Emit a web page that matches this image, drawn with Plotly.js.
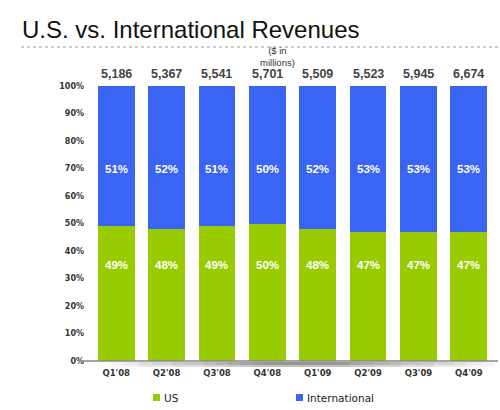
<!DOCTYPE html>
<html><head><meta charset="utf-8">
<script src="https://cdn.plot.ly/plotly-3.0.1.min.js"></script>
<style>html,body{margin:0;padding:0;background:#fff}#chart{width:500px;height:410px}</style>
</head><body><div id="chart"></div>
<script>
const quarters = ["Q1'08","Q2'08","Q3'08","Q4'08","Q1'09","Q2'09","Q3'09","Q4'09"];
const usShare = [49,48,49,50,48,47,47,47];
const intlShare = [51,52,51,50,52,53,53,53];
const totals = ["5,186","5,367","5,541","5,701","5,509","5,523","5,945","6,674"];
const yTicks = [0,10,20,30,40,50,60,70,80,90,100];
const seriesNames = ['US','International'];

const green = '#99cc00', blue = '#3a64f4';
const colors = [green, blue];
const traces = [
  {type:'bar', name:seriesNames[0], x:quarters, y:usShare, marker:{color:green}, hoverinfo:'none', showlegend:false},
  {type:'bar', name:seriesNames[1], x:quarters, y:intlShare, marker:{color:blue}, hoverinfo:'none', showlegend:false}
];
const PW = 403, PH = 275, L = 91, B = 361;
const px = v => (v - L) / PW, py = v => (B - v) / PH;

const ann = [];
quarters.forEach((q,i)=>{
  ann.push({x:q, y:100, yref:'y', text:'<b>'+totals[i]+'</b>', showarrow:false, yanchor:'bottom', yshift:3,
    font:{family:'Liberation Sans, Arial', size:12.5, color:'#444'}});
  ann.push({x:q, y:70, text:'<b>'+intlShare[i]+'%</b>', showarrow:false, font:{family:'Liberation Sans, Arial', size:11.5, color:'#fff'}});
  ann.push({x:q, y:35, text:'<b>'+usShare[i]+'%</b>', showarrow:false, font:{family:'Liberation Sans, Arial', size:11.5, color:'#fff'}});
});
ann.push({xref:'x', x:3, xshift:10, yref:'paper', y:1, yshift:16, text:'($ in<br>millions)', showarrow:false, yanchor:'bottom',
  font:{family:'Liberation Sans, Arial', size:9.5, color:'#333'}});

// legend drawn as swatches + labels
const legX = [153, 296];
const legShapes = [];
seriesNames.forEach((n,i)=>{
  legShapes.push({type:'rect', xref:'paper', yref:'paper', x0:px(legX[i]), x1:px(legX[i]+7), y0:py(394), y1:py(401),
    fillcolor:colors[i], line:{width:0}});
  ann.push({xref:'paper', yref:'paper', x:px(legX[i]+9), y:py(397.5), xanchor:'left', yanchor:'middle', showarrow:false,
    text:n, font:{family:'DejaVu Sans', size:10.5, color:'#222'}});
});

// soft shadow under the baseline
const shadow = [];
const widths = [[0.05,1.0],[0.12,0.93],[0.2,0.85],[0.28,0.77],[0.34,0.7],[0.4,0.64]];
widths.forEach(w=>{
  shadow.push({type:'rect', xref:'paper', yref:'paper', x0:w[0], x1:w[1], y0:py(367), y1:py(362),
    fillcolor:'rgba(0,0,0,0.045)', line:{width:0}, layer:'below'});
  shadow.push({type:'rect', xref:'paper', yref:'paper', x0:w[0]+0.03, x1:w[1]-0.03, y0:py(365), y1:py(362),
    fillcolor:'rgba(0,0,0,0.04)', line:{width:0}, layer:'below'});
});

const layout = {
  width:500, height:410,
  margin:{l:L, r:6, t:86, b:49, autoexpand:false},
  barmode:'stack', bargap:0.27,
  paper_bgcolor:'#fff', plot_bgcolor:'#fff',
  title:{text:'U.S. vs. International Revenues', x:22/500, xanchor:'left', y:1-30/410, yanchor:'middle',
    font:{family:'Liberation Sans, Arial', size:24, color:'#111'}},
  xaxis:{type:'category', showgrid:false, zeroline:false, showline:false, ticks:'', ticklabelstandoff:5,
    tickfont:{family:'DejaVu Sans', size:8.5, color:'#333', weight:'bold'}},
  yaxis:{range:[0,100], tickvals:yTicks, ticktext:yTicks.map(v=>v+'%'), showgrid:false, zeroline:false,
    showline:false, ticks:'', ticklabelstandoff:6,
    tickfont:{family:'DejaVu Sans', size:8, color:'#333', weight:'bold'}},
  showlegend:false,
  annotations:ann,
  shapes:shadow.concat(legShapes, [
    {type:'line', xref:'paper', yref:'paper', x0:-0.02, x1:1.01, y0:0, y1:0, line:{color:'#888', width:1.5}, layer:'above'},
    {type:'line', xref:'paper', yref:'paper', x0:px(21), x1:1.015, y0:py(47), y1:py(47), line:{color:'#999', width:1, dash:'dot'}}
  ])
};
Plotly.newPlot('chart', traces, layout, {displayModeBar:false, staticPlot:true});
</script></body></html>
